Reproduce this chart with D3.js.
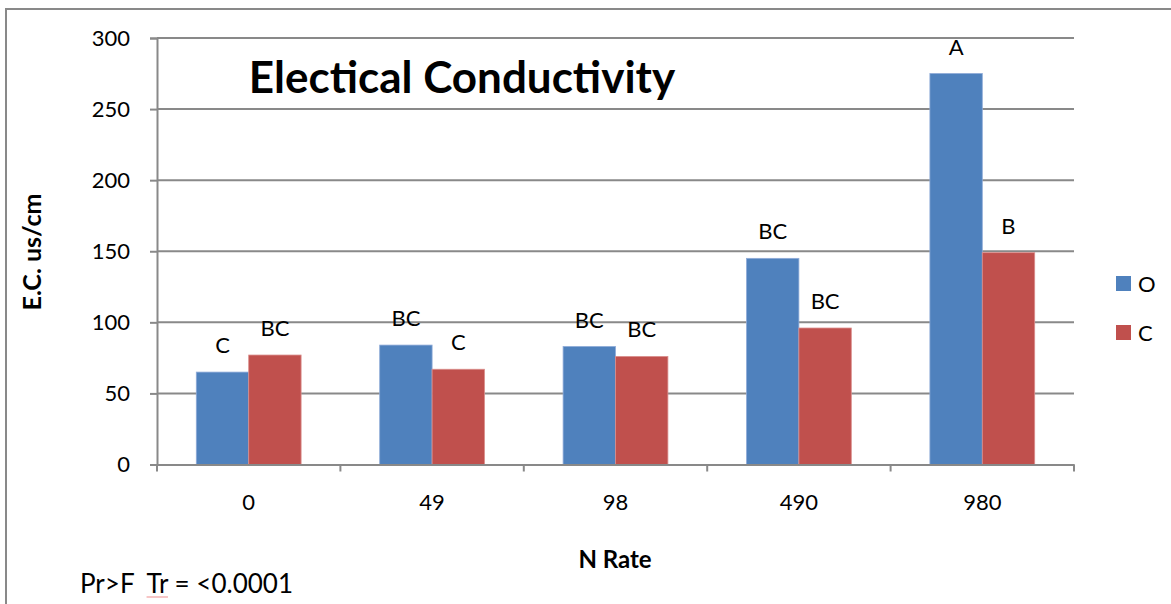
<!DOCTYPE html>
<html>
<head>
<meta charset="utf-8">
<script src="https://cdn.jsdelivr.net/npm/d3@7"></script>
<style>
  html, body { margin: 0; padding: 0; background: #fff; }
  svg { display: block; }
  text { font-family: Lato, "Open Sans", "Liberation Sans", sans-serif; fill: #000; }
</style>
</head>
<body>
<svg id="chart" width="1171" height="604"></svg>
<script>
// N application rates (categories on the x axis)
const categories = ["0", "49", "98", "490", "980"];
// Series names
const seriesNames = ["O", "C"];
// E.C. values (us/cm) per series
const valuesO = [65, 84, 83, 145, 275];
const valuesC = [77, 67, 76, 96, 149];
// Mean-separation letters shown above each bar
const lettersO = ["C", "BC", "BC", "BC", "A"];
const lettersC = ["BC", "C", "BC", "BC", "B"];
// Y axis ticks
const yTicks = [0, 50, 100, 150, 200, 250, 300];

const colors = { O: "#4F81BD", C: "#C0504D" };
const gridColor = "#898989";

const svg = d3.select("#chart");

// outer chart frame
svg.append("rect")
  .attr("x", 6).attr("y", 9)
  .attr("width", 1180).attr("height", 620)
  .attr("fill", "none")
  .attr("stroke", gridColor)
  .attr("stroke-width", 2);

const plot = { left: 157, right: 1074, top: 38, bottom: 464.5 };

const x0 = d3.scaleBand()
  .domain(categories)
  .range([plot.left, plot.right])
  .paddingInner(0).paddingOuter(0);

// two bars per group with a 150% gap between groups
const barW = x0.bandwidth() / 3.5;
const x1 = d3.scaleBand()
  .domain(seriesNames)
  .range([0, barW * 2]);

const y = d3.scaleLinear().domain([0, 300]).range([plot.bottom, plot.top]);

// horizontal gridlines
svg.append("g")
  .selectAll("line")
  .data(yTicks.filter(t => t > 0))
  .join("line")
  .attr("x1", plot.left).attr("x2", plot.right)
  .attr("y1", d => y(d)).attr("y2", d => y(d))
  .attr("stroke", gridColor).attr("stroke-width", 2);

// Y axis
const yAxis = svg.append("g")
  .attr("transform", `translate(${plot.left},0)`)
  .call(d3.axisLeft(y).tickValues(yTicks).tickSize(7).tickPadding(20).tickFormat(d3.format("d")));
yAxis.select(".domain").attr("stroke", gridColor).attr("stroke-width", 2);
yAxis.selectAll(".tick line").attr("stroke", gridColor).attr("stroke-width", 2);
yAxis.selectAll(".tick text")
  .attr("font-size", 22)
  .attr("font-family", "Lato, 'Open Sans', sans-serif")
  .attr("fill", "#000");

// bars
const data = categories.map((c, i) => ({
  cat: c,
  items: [
    { s: "O", v: valuesO[i], l: lettersO[i] },
    { s: "C", v: valuesC[i], l: lettersC[i] }
  ]
}));

const groups = svg.append("g")
  .selectAll("g")
  .data(data)
  .join("g")
  .attr("transform", d => `translate(${x0(d.cat) + (x0.bandwidth() - barW * 2) / 2},0)`);

groups.selectAll("rect")
  .data(d => d.items)
  .join("rect")
  .attr("x", d => x1(d.s))
  .attr("y", d => y(d.v))
  .attr("width", x1.bandwidth())
  .attr("height", d => y(0) - y(d.v))
  .attr("fill", d => colors[d.s])
  .attr("stroke", d => d.s === "O" ? "#8EAAD8" : "#DA8E8C")
  .attr("stroke-width", 0.8);

groups.selectAll("text")
  .data(d => d.items)
  .join("text")
  .attr("x", d => x1(d.s) + x1.bandwidth() / 2)
  .attr("y", d => y(d.v) - 19)
  .attr("text-anchor", "middle")
  .attr("font-size", 22)
  .text(d => d.l);

// X axis
const xAxis = svg.append("g")
  .attr("transform", `translate(0,${plot.bottom})`)
  .call(d3.axisBottom(x0).tickSize(0).tickPadding(30));
xAxis.select(".domain").attr("stroke", gridColor).attr("stroke-width", 2);
xAxis.selectAll(".tick text")
  .attr("font-size", 22)
  .attr("font-family", "Lato, 'Open Sans', sans-serif")
  .attr("fill", "#000");

// category boundary tick marks
svg.append("g")
  .selectAll("line")
  .data(d3.range(categories.length + 1))
  .join("line")
  .attr("x1", i => plot.left + i * x0.bandwidth())
  .attr("x2", i => plot.left + i * x0.bandwidth())
  .attr("y1", plot.bottom).attr("y2", plot.bottom + 7)
  .attr("stroke", gridColor).attr("stroke-width", 2);

// title
svg.append("text")
  .attr("x", 462).attr("y", 93)
  .attr("text-anchor", "middle")
  .attr("font-size", 44)
  .attr("font-weight", "bold")
  .text("Electical Conductivity");

// axis titles
svg.append("text")
  .attr("transform", "translate(41,252) rotate(-90)")
  .attr("text-anchor", "middle")
  .attr("font-size", 25)
  .attr("font-weight", "bold")
  .text("E.C. us/cm");

svg.append("text")
  .attr("x", 615).attr("y", 568)
  .attr("text-anchor", "middle")
  .attr("font-size", 24)
  .attr("font-weight", "bold")
  .text("N Rate");

// legend
const legend = svg.append("g")
  .selectAll("g")
  .data(seriesNames)
  .join("g")
  .attr("transform", (d, i) => `translate(1116,${276 + i * 49})`);
legend.append("rect")
  .attr("width", 15).attr("height", 15)
  .attr("fill", d => colors[d]);
legend.append("text")
  .attr("x", 22).attr("y", 16)
  .attr("font-size", 22)
  .text(d => d);

// significance note
const note = svg.append("text")
  .attr("x", 80).attr("y", 593)
  .attr("font-size", 26)
  .attr("xml:space", "preserve")
  .text("Pr>F  Tr = <0.0001");

// spell-check style underline beneath "Tr"
const noteNode = note.node();
const trStart = noteNode.getStartPositionOfChar(6).x;
const trEnd = noteNode.getEndPositionOfChar(7).x;
svg.append("line")
  .attr("x1", trStart).attr("x2", trEnd)
  .attr("y1", 597).attr("y2", 597)
  .attr("stroke", "#F2A0A0").attr("stroke-width", 1.2);
</script>
</body>
</html>
